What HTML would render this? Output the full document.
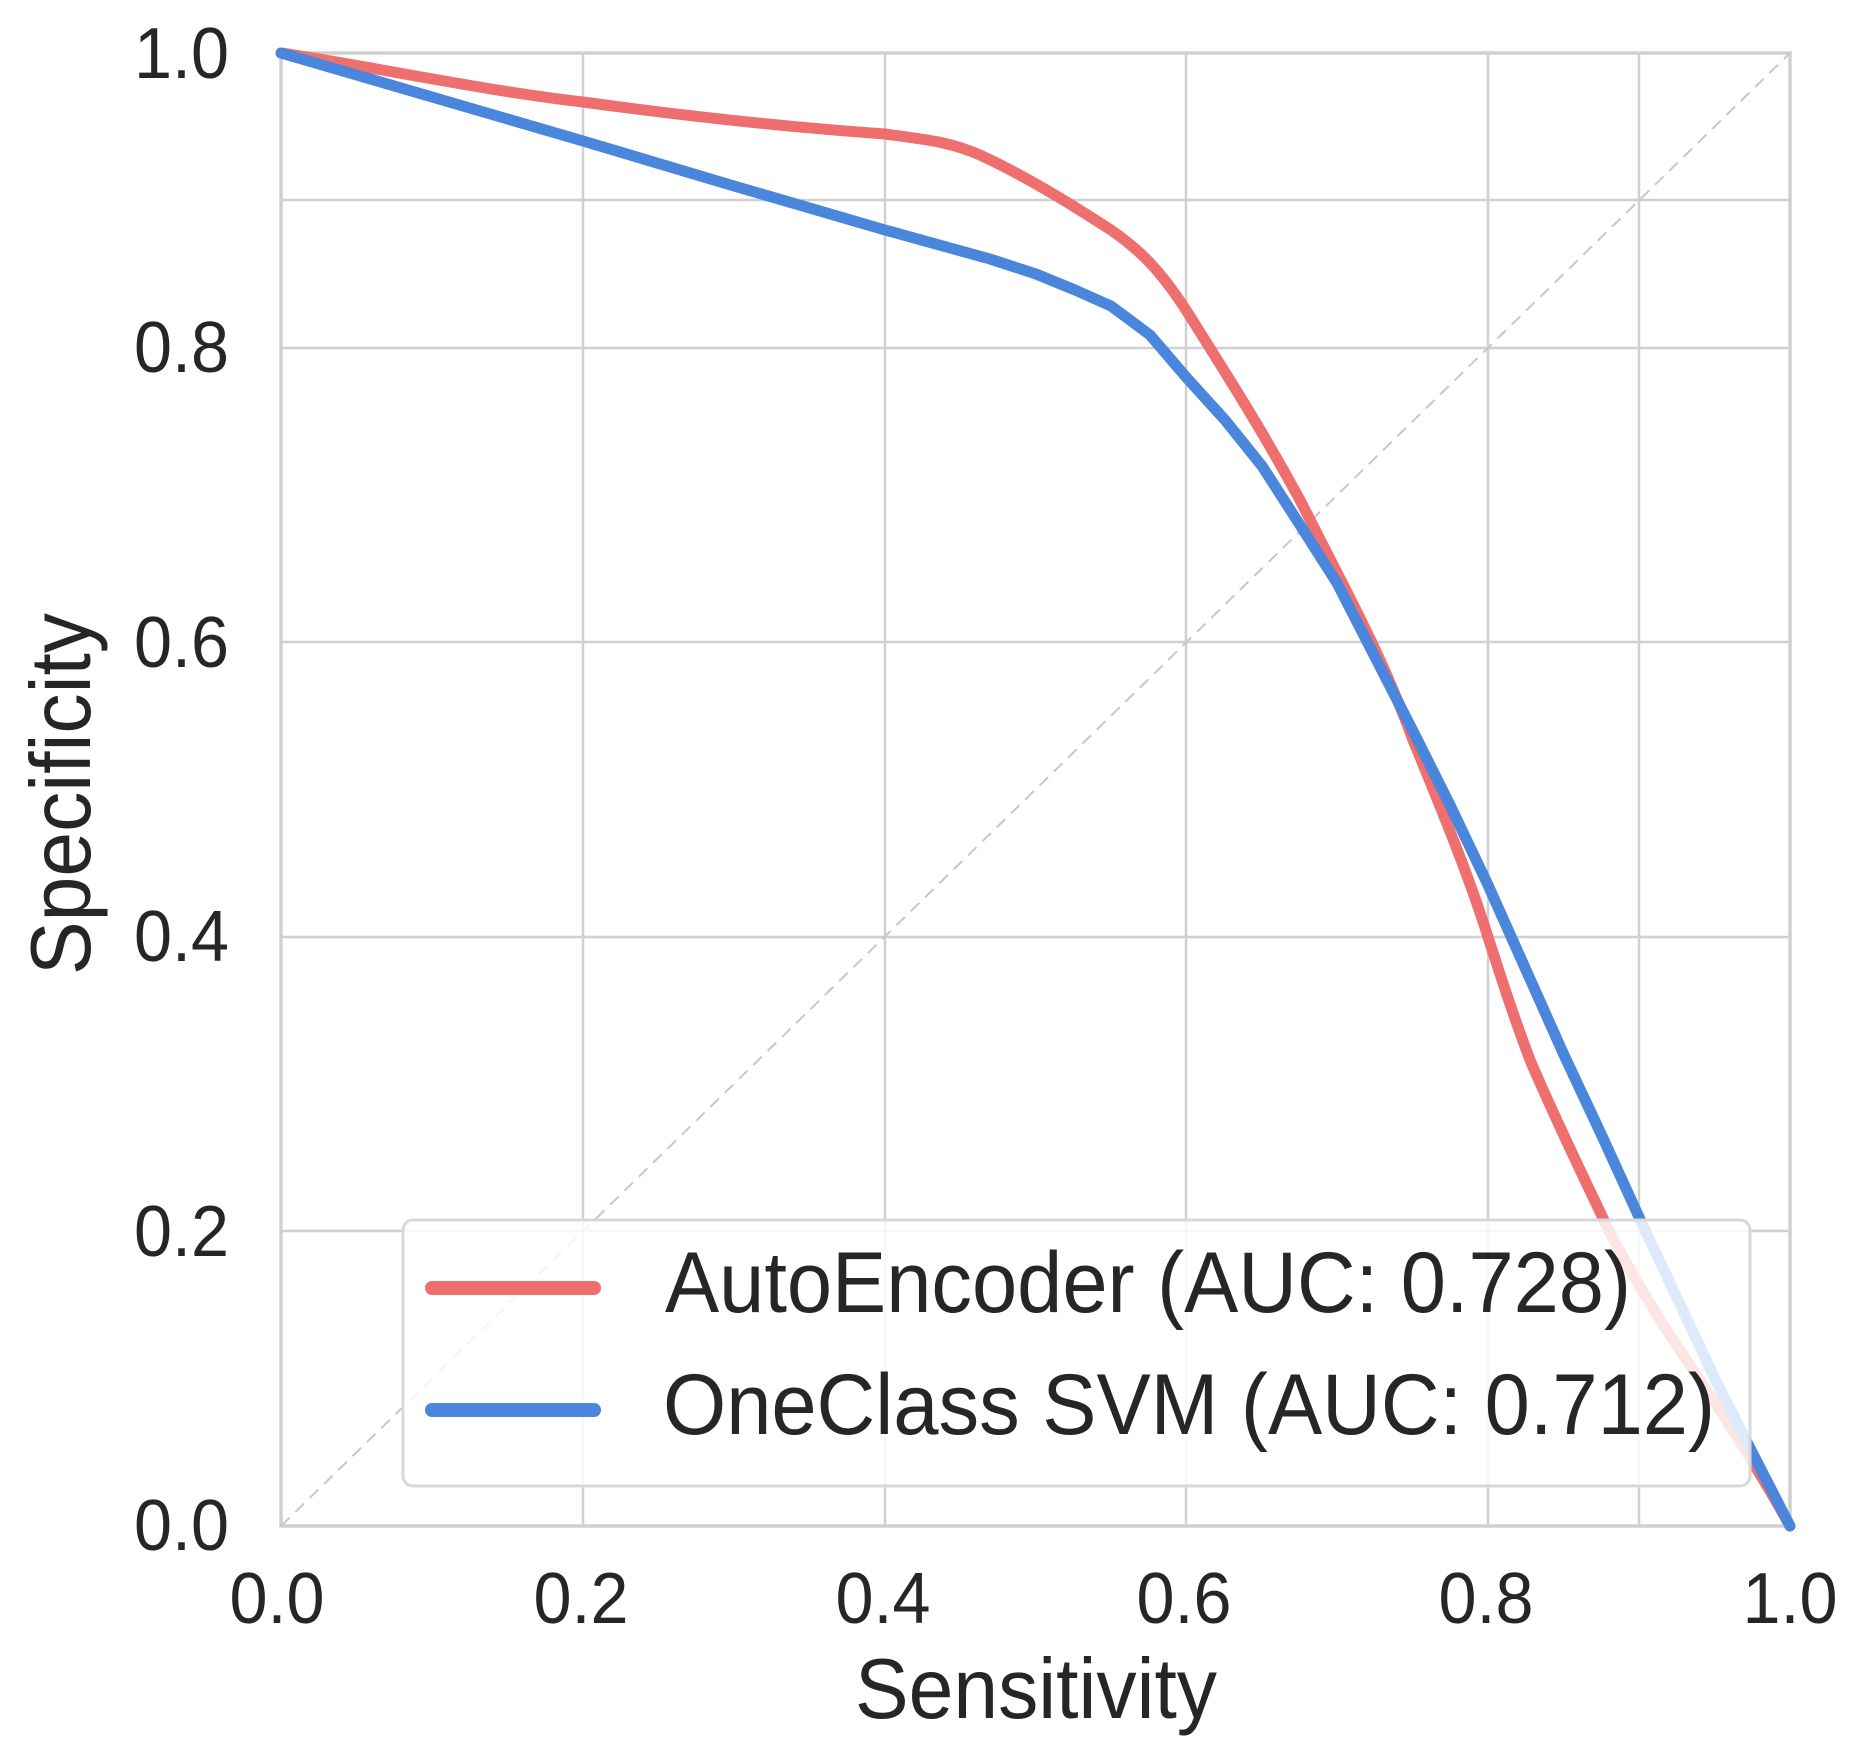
<!DOCTYPE html>
<html><head><meta charset="utf-8"><style>html,body{margin:0;padding:0;background:#fff}svg{display:block}</style></head>
<body>
<svg width="1856" height="1760" viewBox="0 0 1856 1760" xmlns="http://www.w3.org/2000/svg" font-family="Liberation Sans, sans-serif" fill="#262626">
<rect width="1856" height="1760" fill="#fff"/>
<g stroke="#d0d0d0" stroke-width="2.5">
<line x1="583" y1="53" x2="583" y2="1526"/>
<line x1="885" y1="53" x2="885" y2="1526"/>
<line x1="1186" y1="53" x2="1186" y2="1526"/>
<line x1="1488" y1="53" x2="1488" y2="1526"/>
<line x1="1639" y1="53" x2="1639" y2="1526"/>
<line x1="281" y1="1231" x2="1790" y2="1231"/>
<line x1="281" y1="937" x2="1790" y2="937"/>
<line x1="281" y1="642" x2="1790" y2="642"/>
<line x1="281" y1="348" x2="1790" y2="348"/>
<line x1="281" y1="200" x2="1790" y2="200"/>
</g>
<rect x="281" y="53" width="1509" height="1473" fill="none" stroke="#d0d0d0" stroke-width="3.5"/>
<line x1="281" y1="1526" x2="1790" y2="53" stroke="#c8c8c8" stroke-width="2" stroke-dasharray="12,8"/>
<g fill="none" stroke-width="11" stroke-linejoin="round" stroke-linecap="round">
<path stroke="#ef6e6e" d="M281,53 C380,68 480,90 583,102 C700,118 800,128 885,134 C930,140 950,142 980,155 C1030,178 1080,210 1111,230 C1140,250 1160,270 1186,310 C1230,380 1262,430 1300,500 C1340,580 1380,650 1413,740 C1450,830 1470,880 1488,937 C1505,990 1515,1020 1530,1060 C1560,1130 1590,1190 1609,1231 C1640,1290 1669,1335 1700,1380 C1740,1440 1770,1490 1790,1526"/>
<polyline stroke="#4a86dc" points="281,53 432,97 583,141 734,186 885,230 990,259 1036,274 1075,290 1111,306 1150,335 1186,377 1225,420 1262,466 1300,525 1337,583 1375,657 1413,731 1450,805 1488,885 1526,970 1564,1055 1602,1136 1639,1217 1677,1298 1715,1379 1752,1452 1790,1526"/>
</g>
<rect x="403" y="1220" width="1347" height="266" rx="10" fill="#fff" fill-opacity="0.82" stroke="#d8d8d8" stroke-width="3"/>
<line x1="432" y1="1288" x2="594" y2="1288" stroke="#ef6e6e" stroke-width="14" stroke-linecap="round"/>
<line x1="432" y1="1410" x2="594" y2="1410" stroke="#4a86dc" stroke-width="14" stroke-linecap="round"/>
<text x="665" y="1312" font-size="86" textLength="966" lengthAdjust="spacingAndGlyphs">AutoEncoder (AUC: 0.728)</text>
<text x="663" y="1434" font-size="86" textLength="1052" lengthAdjust="spacingAndGlyphs">OneClass SVM (AUC: 0.712)</text>
<g font-size="72" text-anchor="end">
<text x="229" y="1550" textLength="95" lengthAdjust="spacingAndGlyphs">0.0</text>
<text x="229" y="1256" textLength="95" lengthAdjust="spacingAndGlyphs">0.2</text>
<text x="229" y="961" textLength="95" lengthAdjust="spacingAndGlyphs">0.4</text>
<text x="229" y="667" textLength="95" lengthAdjust="spacingAndGlyphs">0.6</text>
<text x="229" y="372" textLength="95" lengthAdjust="spacingAndGlyphs">0.8</text>
<text x="229" y="78" textLength="95" lengthAdjust="spacingAndGlyphs">1.0</text>
</g>
<g font-size="72" text-anchor="middle">
<text x="277" y="1623" textLength="95" lengthAdjust="spacingAndGlyphs">0.0</text>
<text x="581" y="1623" textLength="95" lengthAdjust="spacingAndGlyphs">0.2</text>
<text x="883" y="1623" textLength="95" lengthAdjust="spacingAndGlyphs">0.4</text>
<text x="1184" y="1623" textLength="95" lengthAdjust="spacingAndGlyphs">0.6</text>
<text x="1486" y="1623" textLength="95" lengthAdjust="spacingAndGlyphs">0.8</text>
<text x="1790" y="1623" textLength="95" lengthAdjust="spacingAndGlyphs">1.0</text>
</g>
<text x="1036" y="1718" font-size="85" text-anchor="middle" textLength="362" lengthAdjust="spacingAndGlyphs">Sensitivity</text>
<text transform="translate(90,794) rotate(-90)" font-size="85" text-anchor="middle" textLength="362" lengthAdjust="spacingAndGlyphs">Specificity</text>
</svg>
</body></html>
